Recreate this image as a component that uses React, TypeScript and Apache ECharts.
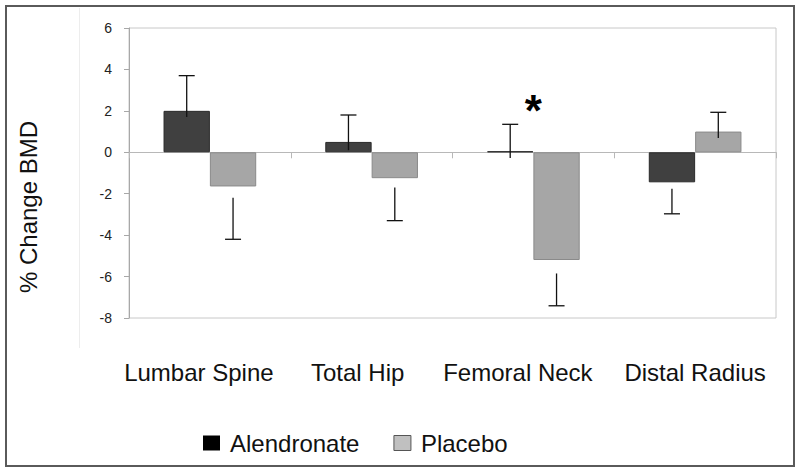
import React, { useEffect, useRef } from "react";
import * as echarts from "echarts";

const categories = ["Lumbar Spine", "Total Hip", "Femoral Neck", "Distal Radius"];
const alendronate = [2.0, 0.5, 0.05, -1.45];
const placebo = [-1.65, -1.25, -5.2, 1.0];
const alendErrFrom = [1.7, 0.1, -0.28, -1.76];
const alendErrTo = [3.7, 1.8, 1.35, -2.97];
const placeboErrFrom = [-2.2, -1.7, -5.85, 0.69];
const placeboErrTo = [-4.2, -3.3, -7.41, 1.93];
const labelShift = [22, 28, 31, 0];
const starPoint = [2, 2.0];

const FONT = "'Liberation Sans', Arial, sans-serif";
const GAP = 0.427;

function errSeries(name: string, from: number[], to: number[], side: number) {
  return {
    type: "custom",
    name,
    z: 5,
    data: categories.map((_, i) => [i, from[i], to[i]]),
    encode: { x: 0, y: [1, 2] },
    renderItem: (params: any, api: any) => {
      const band = api.size([1, 0])[0];
      const barW = (band * (1 - GAP)) / 2;
      const p1 = api.coord([api.value(0), api.value(1)]);
      const p2 = api.coord([api.value(0), api.value(2)]);
      const x = p1[0] + (side * barW) / 2;
      const style = { stroke: "#111", lineWidth: 1.3 };
      return {
        type: "group",
        children: [
          { type: "line", shape: { x1: x, y1: p1[1], x2: x, y2: p2[1] }, style },
          { type: "line", shape: { x1: x - 8, y1: p2[1], x2: x + 8, y2: p2[1] }, style },
        ],
      };
    },
  };
}

export default function App() {
  const ref = useRef<HTMLDivElement>(null);
  useEffect(() => {
    const chart = echarts.init(ref.current!, undefined, { renderer: "svg" });
    chart.setOption({
      animation: false,
      backgroundColor: "#fff",
      textStyle: { fontFamily: FONT },
      grid: {
        left: 129,
        top: 28,
        right: 24,
        bottom: 155,
        show: true,
        borderColor: "#c8c8c8",
        borderWidth: 1,
        containLabel: false,
      },
      legend: {
        left: 198,
        top: 426,
        itemWidth: 17,
        itemHeight: 15,
        itemGap: 34,
        textStyle: { fontSize: 24, color: "#111", fontFamily: FONT, padding: [0, 0, 0, 5] },
        data: [
          { name: "Alendronate", icon: "rect", itemStyle: { color: "#000", borderWidth: 0 } },
          { name: "Placebo", icon: "rect", itemStyle: { color: "#c0c0c0", borderColor: "#555", borderWidth: 1 } },
        ],
      },
      xAxis: [
        {
          type: "category",
          data: categories,
          axisLine: { onZero: true, lineStyle: { color: "#b8b8b8", width: 1 } },
          axisTick: { show: true, length: 6, lineStyle: { color: "#b8b8b8" } },
          axisLabel: { show: false },
        },
        {
          type: "category",
          data: categories,
          position: "bottom",
          axisLine: { show: false },
          axisTick: { show: false },
          axisLabel: {
            show: true,
            interval: 0,
            hideOverlap: false,
            margin: 42,
            fontSize: 24,
            color: "#111",
            fontFamily: FONT,
            formatter: (v: string) => {
              const i = categories.indexOf(v);
              return "{s" + i + "|" + v + "}";
            },
            rich: {
              s0: { fontSize: 24, color: "#111", padding: [0, labelShift[0], 0, 0], fontFamily: FONT },
              s1: { fontSize: 24, color: "#111", padding: [0, labelShift[1], 0, 0], fontFamily: FONT },
              s2: { fontSize: 24, color: "#111", padding: [0, labelShift[2], 0, 0], fontFamily: FONT },
              s3: { fontSize: 24, color: "#111", padding: [0, labelShift[3], 0, 0], fontFamily: FONT },
            },
          },
        },
      ],
      yAxis: {
        type: "value",
        min: -8,
        max: 6,
        interval: 2,
        axisLine: { show: true, lineStyle: { color: "#a8a8a8" } },
        axisTick: { show: true, length: 5, lineStyle: { color: "#a8a8a8" } },
        splitLine: { show: false },
        axisLabel: { fontSize: 14, color: "#222", margin: 17, fontFamily: FONT },
      },
      series: [
        {
          type: "bar",
          name: "Alendronate",
          data: alendronate,
          barGap: "0%",
          barCategoryGap: GAP * 100 + "%",
          itemStyle: { color: "#404040", borderColor: "#2a2a2a", borderWidth: 1 },
        },
        {
          type: "bar",
          name: "Placebo",
          data: placebo,
          barGap: "0%",
          barCategoryGap: GAP * 100 + "%",
          itemStyle: { color: "#a6a6a6", borderColor: "#8a8a8a", borderWidth: 1 },
        },
        errSeries("errA", alendErrFrom, alendErrTo, -1),
        errSeries("errP", placeboErrFrom, placeboErrTo, 1),
        {
          type: "custom",
          name: "star",
          z: 6,
          data: [starPoint],
          renderItem: (params: any, api: any) => {
            const p = api.coord([api.value(0), api.value(1)]);
            return {
              type: "text",
              x: p[0],
              y: p[1],
              style: {
                text: "*",
                fontSize: 44,
                fontWeight: "bold",
                fontFamily: FONT,
                fill: "#000",
                align: "center",
                verticalAlign: "middle",
              },
            };
          },
        },
      ],
      graphic: [
        {
          type: "rect",
          shape: { x: 6, y: 6, width: 788, height: 460 },
          style: { fill: "none", stroke: "#5a5a5a", lineWidth: 2 },
          z: -1,
        },
        {
          type: "line",
          shape: { x1: 79.5, y1: 8, x2: 79.5, y2: 348 },
          style: { stroke: "#ededed", lineWidth: 1 },
          z: -1,
        },
        {
          type: "text",
          x: 28,
          y: 207,
          rotation: Math.PI / 2,
          style: {
            text: "% Change BMD",
            fontSize: 24,
            fontFamily: FONT,
            fill: "#111",
            align: "center",
            verticalAlign: "middle",
          },
        },
      ],
    });
    return () => chart.dispose();
  }, []);
  return <div ref={ref} style={{ width: 800, height: 473, position: "absolute", left: 0, top: 0 }} />;
}
